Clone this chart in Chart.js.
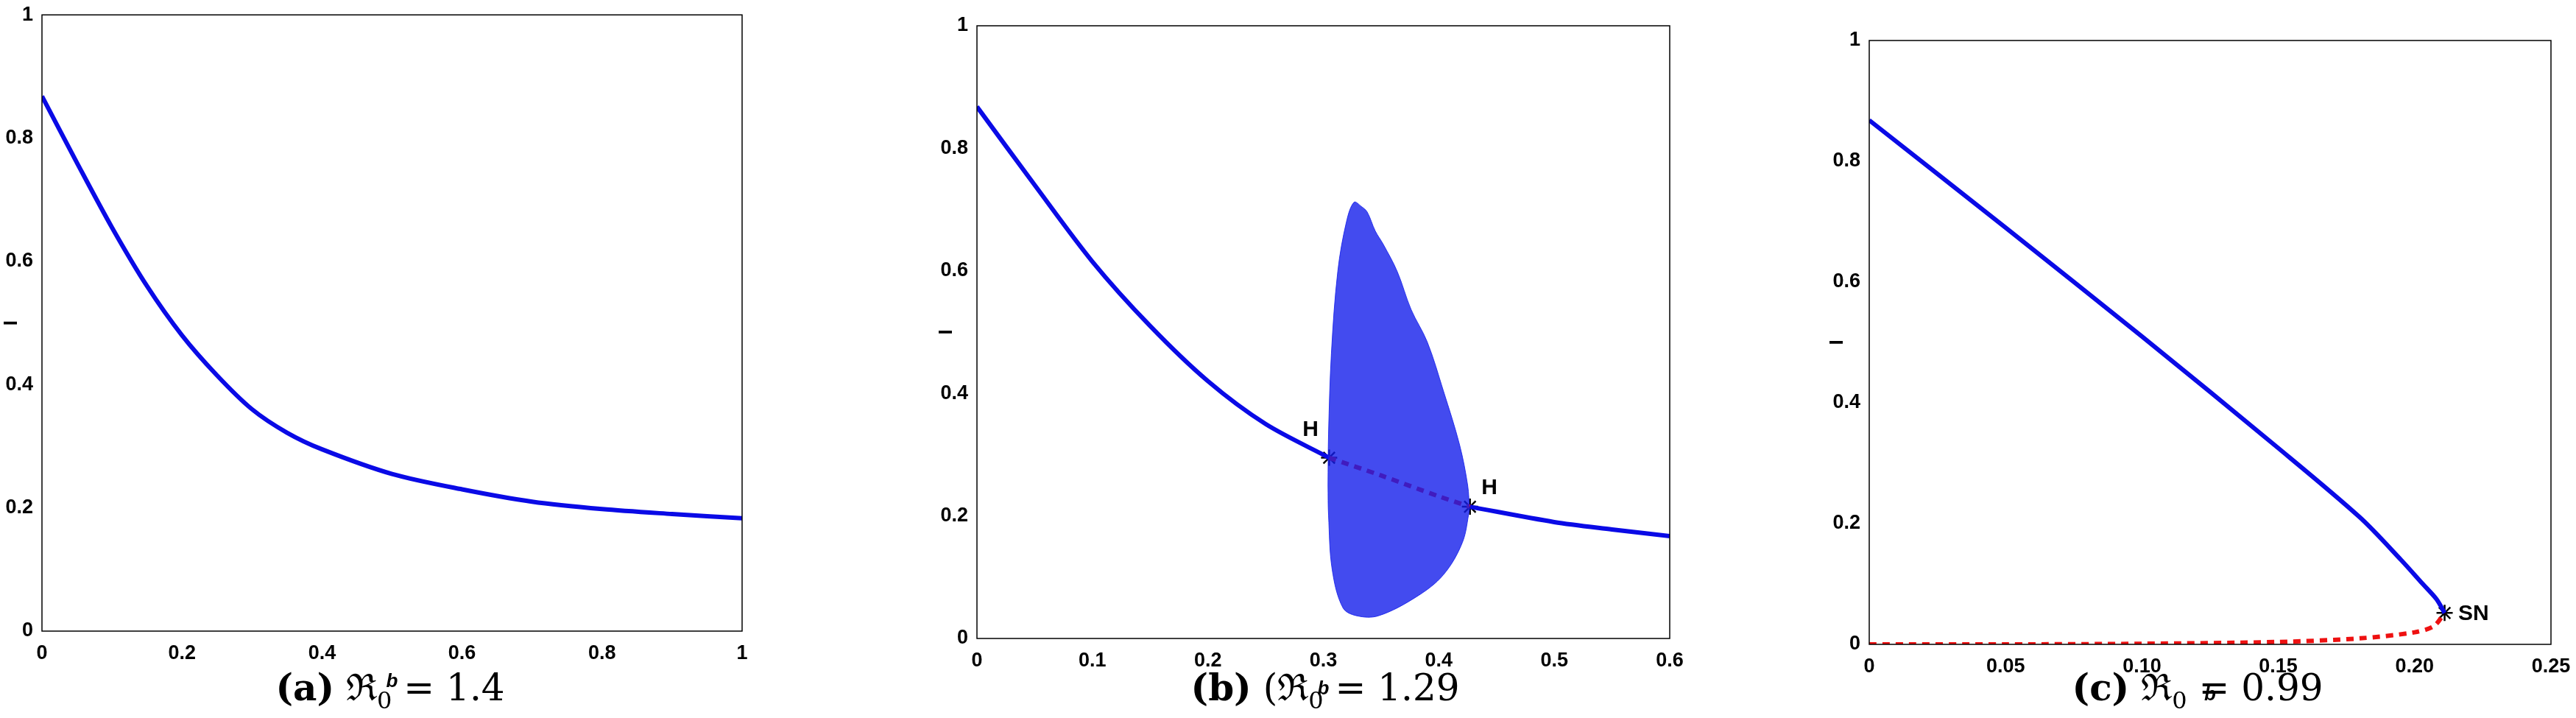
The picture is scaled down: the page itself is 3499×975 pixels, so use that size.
<!DOCTYPE html>
<html>
<head>
<meta charset="utf-8">
<script src="https://cdn.jsdelivr.net/npm/chart.js@4"></script>
<style>
  body { margin: 0; width: 3499px; height: 975px; background: #fff; position: relative; overflow: hidden; }
  .panel { position: absolute; top: 0; }
  .caption { position: absolute; top: 898px; font-family: "DejaVu Serif", "Liberation Serif", serif; font-size: 50px; color: #000; white-space: nowrap; transform: translateX(-50%); }
</style>
</head>
<body>
<div class="panel" style="left:0;width:1040px;height:945px"><canvas id="chart-a"></canvas></div>
<div class="panel" style="left:1270px;width:1030px;height:955px"><canvas id="chart-b"></canvas></div>
<div class="panel" style="left:2480px;width:1019px;height:963px"><canvas id="chart-c"></canvas></div>
<div class="caption" style="left:530px"><b>(a)</b> ℜ<sub style="font-size:32px">0</sub> = 1.4</div>
<div class="caption" style="left:1800px"><b>(b)</b> (ℜ<sub style="font-size:32px">0</sub> = 1.29</div>
<div class="caption" style="left:2985px"><b>(c)</b> ℜ<sub style="font-size:32px">0</sub> = 0.99</div>
<script>
// Panel (a)
const aCurve = [[0,0.868],[0.05,0.76],[0.1,0.655],[0.15,0.56],[0.2,0.48],[0.25,0.415],[0.3,0.36],[0.35,0.322],[0.4,0.295],[0.5,0.255],[0.6,0.23],[0.7,0.21],[0.8,0.198],[0.9,0.19],[1,0.183]];

// Panel (b)
const bStableLeft = [[0,0.868],[0.05,0.74],[0.1,0.615],[0.15,0.51],[0.2,0.42],[0.25,0.35],[0.305,0.295]];
const bUnstable = [[0.305,0.295],[0.35,0.266],[0.4,0.232],[0.427,0.215]];
const bStableRight = [[0.427,0.215],[0.5,0.19],[0.55,0.178],[0.6,0.167]];
const bCloudUpper = [[0.304,0.25],[0.3045,0.334],[0.307,0.466],[0.3125,0.599],[0.32,0.68],[0.3266,0.712],[0.333,0.705],[0.338,0.696],[0.345,0.665],[0.352,0.643],[0.364,0.599],[0.376,0.537],[0.39,0.484],[0.404,0.404],[0.418,0.316],[0.425,0.25],[0.4266,0.21]];
const bCloudLower = [[0.304,0.25],[0.3045,0.201],[0.3077,0.112],[0.317,0.05],[0.329,0.037],[0.3477,0.037],[0.3806,0.068],[0.404,0.104],[0.4205,0.157],[0.4266,0.21]];
const bHopf = [[0.305,0.295],[0.427,0.215]];

// Panel (c)
const cStable = [[0,0.868],[0.05,0.69],[0.1,0.51],[0.15,0.325],[0.18,0.21],[0.195,0.14],[0.203,0.1],[0.208,0.075],[0.211,0.052]];
const cUnstable = [[0,0],[0.05,0],[0.1,0.001],[0.15,0.004],[0.18,0.01],[0.2,0.02],[0.207,0.03],[0.211,0.052]];
const cSaddle = [[0.211,0.052]];

const ticksA = { x: [0,0.2,0.4,0.6,0.8,1], y: [0,0.2,0.4,0.6,0.8,1] };
const ticksB = { x: [0,0.1,0.2,0.3,0.4,0.5,0.6], y: [0,0.2,0.4,0.6,0.8,1] };
const ticksC = { x: [0,0.05,0.1,0.15,0.2,0.25], y: [0,0.2,0.4,0.6,0.8,1] };

const pts = arr => arr.map(([x, y]) => ({ x, y }));
const BLUE = '#0a0ae6';
const RED = '#ee1111';
const tickFont = { family: 'Liberation Sans, Arial', size: 27, weight: 'bold' };

const boxPlugin = {
  id: 'box',
  afterDraw(chart) {
    const { ctx, chartArea: a } = chart;
    ctx.save();
    ctx.strokeStyle = '#000';
    ctx.lineWidth = 1.5;
    ctx.strokeRect(a.left, a.top, a.right - a.left, a.bottom - a.top);
    ctx.restore();
  }
};

const labelPlugin = {
  id: 'pointLabels',
  afterDatasetsDraw(chart, args, opts) {
    const { ctx } = chart;
    ctx.save();
    ctx.font = 'bold 30px Liberation Sans, Arial';
    ctx.fillStyle = '#000';
    (opts.items || []).forEach(it => {
      ctx.fillText(it.text, chart.scales.x.getPixelForValue(it.x), chart.scales.y.getPixelForValue(it.y));
    });
    ctx.restore();
  }
};

function line(data, color, dashed, extra) {
  return Object.assign({
    data: pts(data), showLine: true, borderColor: color, borderWidth: 6, pointRadius: 0,
    borderDash: dashed ? [10, 8] : [], fill: false, tension: 0.3
  }, extra || {});
}

function star(data) {
  return {
    data: pts(data), showLine: false, pointStyle: 'star', pointRadius: 11,
    borderColor: '#000', borderWidth: 2.5, backgroundColor: '#000'
  };
}

function makeChart(id, datasets, ticks, xMax, yWidth, xHeight, padTop, padRight, labels, fmt) {
  return new Chart(document.getElementById(id), {
    type: 'scatter',
    data: { datasets },
    options: {
      responsive: true, maintainAspectRatio: false, animation: false,
      layout: { padding: { top: padTop, right: padRight } },
      plugins: { legend: { display: false }, tooltip: { enabled: false }, pointLabels: { items: labels } },
      scales: {
        x: {
          type: 'linear', min: 0, max: xMax,
          afterBuildTicks: s => { s.ticks = ticks.x.map(v => ({ value: v })); },
          afterFit: s => { s.height = xHeight; },
          grid: { display: false }, border: { display: false },
          ticks: { color: '#000', font: tickFont, maxRotation: 0, padding: 6, callback: fmt },
          title: { display: true, text: 'b', color: '#000', font: { family: 'Liberation Sans, Arial', size: 26, weight: 'bold', style: 'italic' }, padding: { top: 10 } }
        },
        y: {
          type: 'linear', min: 0, max: 1,
          afterBuildTicks: s => { s.ticks = ticks.y.map(v => ({ value: v })); },
          afterFit: s => { s.width = yWidth; },
          grid: { display: false }, border: { display: false },
          ticks: { color: '#000', font: tickFont, padding: 4, callback: v => String(v) },
          title: { display: true, text: 'I', color: '#000', font: { family: 'Liberation Sans, Arial', size: 26, weight: 'bold' }, padding: 0 }
        }
      }
    },
    plugins: [boxPlugin, labelPlugin]
  });
}

makeChart('chart-a', [line(aCurve, BLUE, false)], ticksA, 1, 57, 88, 12, 32, [], v => String(v));

makeChart('chart-b', [
  line(bCloudLower, 'rgba(20,30,235,0.85)', false, { borderWidth: 1, tension: 0.35 }),
  line(bCloudUpper, 'rgba(20,30,235,0.85)', false, { borderWidth: 1, tension: 0.35, fill: '-1', backgroundColor: 'rgba(20,30,235,0.8)' }),
  line(bStableLeft, BLUE, false),
  line(bStableRight, BLUE, false),
  line(bUnstable, RED, true),
  star(bHopf)
], ticksB, 0.6, 57, 88, 35, 32, [{ text: 'H', x: 0.282, y: 0.33 }, { text: 'H', x: 0.437, y: 0.235 }], v => String(v));

makeChart('chart-c', [
  line(cStable, BLUE, false),
  line(cUnstable, RED, true),
  star(cSaddle)
], ticksC, 0.25, 59, 88, 55, 34, [{ text: 'SN', x: 0.216, y: 0.04 }], v => v === 0 ? '0' : v.toFixed(2));
</script>
</body>
</html>
